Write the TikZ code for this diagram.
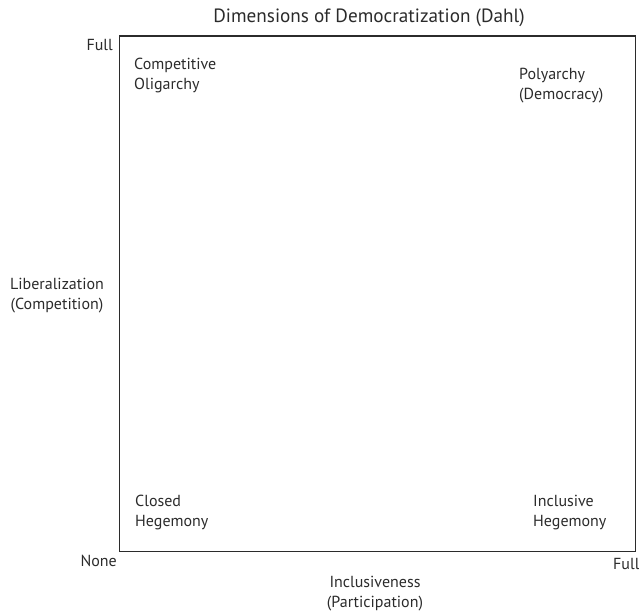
\documentclass[tikz,border=0pt]{standalone}
\usepackage{fontspec}
\setmainfont{PT Sans}
\definecolor{ink}{HTML}{2B2B2B}
\begin{document}
\begin{tikzpicture}[x=1pt,y=-1pt,
  lbl/.style={inner sep=0pt,text=ink,font=\fontsize{16}{20}\selectfont},
  ttl/.style={inner sep=0pt,text=ink,font=\fontsize{19.2}{23}\selectfont}]
\useasboundingbox (0,0) rectangle (639,611);
\node[draw=ink,line width=1.4pt,minimum width=515.8pt,minimum height=515.7pt,inner sep=0pt] (box) at (377.6,293.9) {};
\node[ttl,anchor=base] (title) at (369,22) {Dimensions of Democratization (Dahl)};
\node[lbl,anchor=base east] (yfull) at (113,50.7) {Full};
\node[lbl,anchor=base east] (none) at (117,566) {None};
\node[lbl,anchor=base west] (xfull) at (613,569) {Full};
\node[lbl,anchor=base west,align=left] (co) at (134,89) {Competitive\\Oligarchy};
\node[lbl,anchor=base west,align=left] (poly) at (519,99) {Polyarchy\\(Democracy)};
\node[lbl,anchor=base west,align=left] (ch) at (135,526.7) {Closed\\Hegemony};
\node[lbl,anchor=base west,align=left] (ih) at (533,526.7) {Inclusive\\Hegemony};
\node[lbl,anchor=base,align=center] (lib) at (57,309) {Liberalization\\(Competition)};
\node[lbl,anchor=base,align=center] (inc) at (375,607) {Inclusiveness\\(Participation)};
\end{tikzpicture}
\end{document}
